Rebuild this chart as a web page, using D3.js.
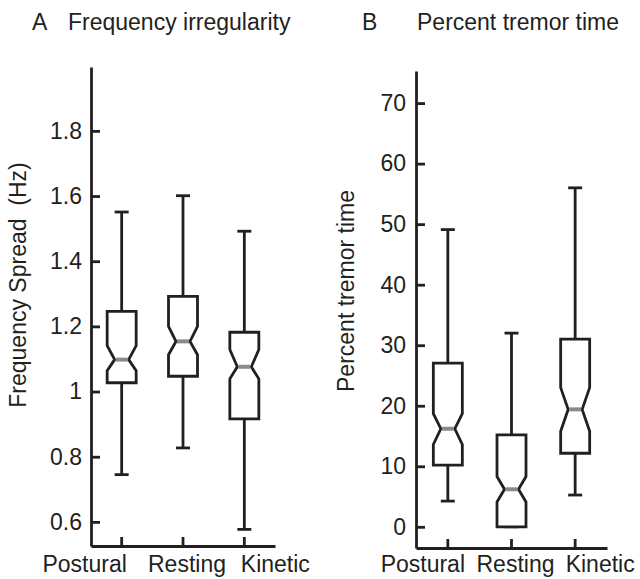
<!DOCTYPE html>
<html>
<head>
<meta charset="utf-8">
<script src="https://cdn.jsdelivr.net/npm/d3@7"></script>
<style>
  body { margin: 0; background: #fff; }
  text { font-family: "Liberation Sans", Arial, sans-serif; fill: #231f20; }
</style>
</head>
<body>
<div id="graph"></div>
<script>
// Categories shared by both panels
var categories = ["Postural", "Resting", "Kinetic"];

// Panel A: frequency spread (Hz)
var freqWhiskerLow  = [0.745, 0.827, 0.577];
var freqQ1          = [1.027, 1.047, 0.916];
var freqNotchLow    = [1.064, 1.113, 1.039];
var freqMedian      = [1.098, 1.154, 1.076];
var freqNotchHigh   = [1.141, 1.200, 1.129];
var freqQ3          = [1.246, 1.292, 1.182];
var freqWhiskerHigh = [1.551, 1.601, 1.492];
var freqTicks = [0.6, 0.8, 1, 1.2, 1.4, 1.6, 1.8];

// Panel B: percent tremor time
var pctWhiskerLow  = [4.25, 0, 5.25];
var pctQ1          = [10.2, 0, 12.15];
var pctNotchLow    = [13.6, 4.1, 15.8];
var pctMedian      = [16.2, 6.2, 19.4];
var pctNotchHigh   = [18.7, 8.3, 23.0];
var pctQ3          = [27.05, 15.2, 31.0];
var pctWhiskerHigh = [49.1, 32.0, 56.0];
var pctTicks = [0, 10, 20, 30, 40, 50, 60, 70];

var ink = "#231f20";
var fontSize = "23px";

var svg = d3.select("#graph")
            .append("svg")
              .attr("width", 640)
              .attr("height", 579);

function build_rows(lo, q1, nlo, med, nhi, q3, hi) {
  return categories.map(function (c, i) {
    return { cat: c, lo: lo[i], q1: q1[i], nlo: nlo[i], med: med[i], nhi: nhi[i], q3: q3[i], hi: hi[i] };
  });
}

function draw_panel(p) {
  var xscale = d3.scaleBand()
                 .domain(categories)
                 .range([p.left, p.right])
                 .padding(0);

  var yscale = d3.scaleLinear()
                 .domain(p.ydomain)
                 .range([p.bottom, p.top]);

  var g = svg.append("g");

  // y axis, ticks pointing inward
  var y_axis = d3.axisLeft(yscale)
                 .tickValues(p.ticks)
                 .tickFormat(function (d) { return String(d); })
                 .tickSizeInner(-9)
                 .tickSizeOuter(0)
                 .tickPadding(p.tickPad);

  g.append("g")
   .attr("transform", "translate(" + p.left + ",0)")
   .call(y_axis);

  // x axis, ticks pointing up, labels drawn separately
  var x_axis = d3.axisBottom(xscale)
                 .tickSizeInner(-9)
                 .tickSizeOuter(0)
                 .tickFormat("");

  g.append("g")
   .attr("transform", "translate(0," + p.bottom + ")")
   .call(x_axis);

  g.selectAll(".domain, .tick line")
   .attr("stroke", ink)
   .attr("stroke-width", 2.8);

  g.selectAll(".tick text")
   .attr("fill", ink)
   .style("font-family", "Liberation Sans, Arial, sans-serif")
   .style("font-size", fontSize);

  // category labels (they sit a bit off the ticks in the original)
  g.selectAll("text.cat")
   .data(categories)
   .enter()
     .append("text")
     .attr("class", "cat")
     .attr("x", function (d, i) { return xscale(d) + xscale.bandwidth() / 2 + p.labelShift[i]; })
     .attr("y", 572)
     .attr("text-anchor", "middle")
     .style("font-size", fontSize)
     .text(function (d) { return d; });

  var half = 14.5, indent = 7.5, cap = 7;
  var rows = p.rows;
  var cx = function (d) { return xscale(d.cat) + xscale.bandwidth() / 2; };

  // whiskers
  g.selectAll("line.whisk")
   .data(rows)
   .enter()
     .append("line")
     .attr("x1", cx).attr("x2", cx)
     .attr("y1", function (d) { return yscale(d.hi); })
     .attr("y2", function (d) { return yscale(d.lo); })
     .attr("stroke", ink)
     .attr("stroke-width", 2.8);

  ["hi", "lo"].forEach(function (k) {
    g.selectAll("line.cap" + k)
     .data(rows)
     .enter()
       .append("line")
       .attr("x1", function (d) { return cx(d) - cap; })
       .attr("x2", function (d) { return cx(d) + cap; })
       .attr("y1", function (d) { return yscale(d[k]); })
       .attr("y2", function (d) { return yscale(d[k]); })
       .attr("stroke", ink)
       .attr("stroke-width", 2.8);
  });

  // notched boxes
  g.selectAll("path.box")
   .data(rows)
   .enter()
     .append("path")
     .attr("d", function (d) {
       var x = cx(d);
       var pts = [
         [x - half, yscale(d.q3)],
         [x + half, yscale(d.q3)],
         [x + half, yscale(d.nhi)],
         [x + half - indent, yscale(d.med)],
         [x + half, yscale(d.nlo)],
         [x + half, yscale(d.q1)],
         [x - half, yscale(d.q1)],
         [x - half, yscale(d.nlo)],
         [x - half + indent, yscale(d.med)],
         [x - half, yscale(d.nhi)]
       ];
       return "M" + pts.map(function (q) { return q.join(","); }).join("L") + "Z";
     })
     .attr("fill", "#fff")
     .attr("stroke", ink)
     .attr("stroke-width", 2.8)
     .attr("stroke-linejoin", "miter");

  // medians
  g.selectAll("line.med")
   .data(rows)
   .enter()
     .append("line")
     .attr("x1", function (d) { return cx(d) - half + indent + 1; })
     .attr("x2", function (d) { return cx(d) + half - indent - 1; })
     .attr("y1", function (d) { return yscale(d.med); })
     .attr("y2", function (d) { return yscale(d.med); })
     .attr("stroke", "#8a8a8a")
     .attr("stroke-width", 4);

  // titles
  g.append("text")
   .attr("x", p.letterX).attr("y", 30)
   .style("font-size", fontSize)
   .text(p.letter);
  g.append("text")
   .attr("x", p.titleX).attr("y", 30)
   .style("font-size", fontSize)
   .text(p.title);

  // y label
  g.append("text")
   .attr("transform", "translate(" + p.ylabX + "," + p.ylabY + ") rotate(-90)")
   .attr("text-anchor", "middle")
   .style("font-size", fontSize)
   .text(p.ylabel);
}

draw_panel({
  left: 91, right: 275, top: 67, bottom: 546,
  ydomain: [0.526, 1.996], ticks: freqTicks, tickPad: 9,
  labelShift: [-37, 4, 31],
  rows: build_rows(freqWhiskerLow, freqQ1, freqNotchLow, freqMedian, freqNotchHigh, freqQ3, freqWhiskerHigh),
  letter: "A", letterX: 32, title: "Frequency irregularity", titleX: 68,
  ylabel: "Frequency Spread\u00a0\u00a0(Hz)", ylabX: 26, ylabY: 285
});

draw_panel({
  left: 416, right: 607, top: 71, bottom: 548,
  ydomain: [-3.5, 75.3], ticks: pctTicks, tickPad: 10,
  labelShift: [-25, 4, 25],
  rows: build_rows(pctWhiskerLow, pctQ1, pctNotchLow, pctMedian, pctNotchHigh, pctQ3, pctWhiskerHigh),
  letter: "B", letterX: 362, title: "Percent tremor time", titleX: 417,
  ylabel: "Percent tremor time", ylabX: 354, ylabY: 291
});
</script>
</body>
</html>
